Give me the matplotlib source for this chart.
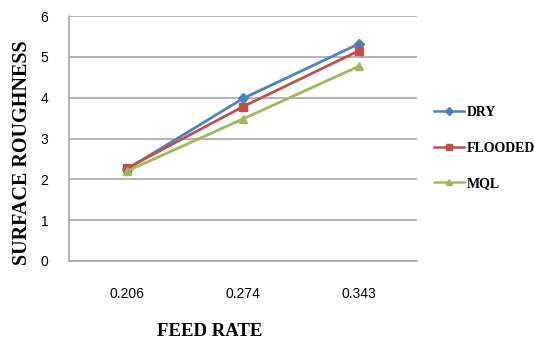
import matplotlib
matplotlib.use("Agg")
import matplotlib.pyplot as plt
from matplotlib.lines import Line2D

# feed rate categories and surface roughness per cooling condition
feed_rates = ["0.206", "0.274", "0.343"]
dry = [2.25, 3.98, 5.32]
flooded = [2.27, 3.78, 5.15]
mql = [2.20, 3.48, 4.77]

series = [
    ("DRY", dry, "#4F81BD", "D"),
    ("FLOODED", flooded, "#C0504D", "s"),
    ("MQL", mql, "#9BBB59", "^"),
]

fig = plt.figure(figsize=(5.34, 3.46), dpi=100)
ax = fig.add_axes([69 / 534, 1 - 261 / 346, (417 - 69) / 534, (261 - 16) / 346])

x = list(range(len(feed_rates)))
for name, vals, col, mk in series:
    ax.plot(x, vals, color=col, lw=2, marker=mk, ms=6 if mk != "D" else 5,
            markeredgecolor=col, label=name, zorder=3)

ax.set_xlim(-0.5, 2.5)
ax.set_ylim(0, 6)
ax.set_yticks(range(0, 7))
ax.set_xticks(x)
ax.set_xticklabels(feed_rates)
ax.grid(axis="y", color="#A6A6A6", lw=1.2)
ax.set_axisbelow(True)
for s in ["top", "right"]:
    ax.spines[s].set_visible(False)
for s in ["left", "bottom"]:
    ax.spines[s].set_color("#A6A6A6")
    ax.spines[s].set_linewidth(1.2)
ax.tick_params(length=0, labelsize=10, labelcolor="#000000")
ax.tick_params(axis="y", pad=15)
ax.tick_params(axis="x", pad=19)
for t in ax.get_xticklabels() + ax.get_yticklabels():
    t.set_family("Liberation Sans")

fig.text(210 / 534, 1 - 331 / 346, "FEED RATE", family="Liberation Serif",
         weight="bold", fontsize=13.5, ha="center", va="center")
fig.text(22 / 534, 1 - 153 / 346, "SURFACE ROUGHNESS", family="Liberation Serif",
         weight="bold", fontsize=14.5, ha="center", va="center", rotation=90)

handles = [Line2D([0], [0], color=col, lw=1.8, marker=mk, ms=4.5, markeredgecolor=col)
           for _, _, col, mk in series]
leg = fig.legend(handles, [s[0] for s in series], loc="center left",
                 bbox_to_anchor=(424 / 534, 1 - 148 / 346), frameon=False,
                 prop={"family": "Liberation Serif", "weight": "bold", "size": 10},
                 handlelength=2.2, handletextpad=0.2, labelspacing=1.6,
                 borderpad=0.2)

fig.savefig("out.png", dpi=100)
